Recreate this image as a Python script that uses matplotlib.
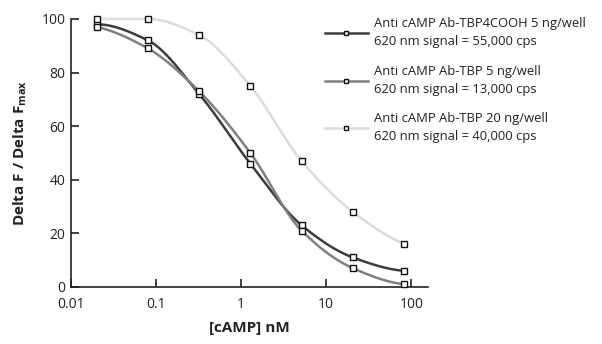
import numpy as np
import matplotlib
matplotlib.use("Agg")
import matplotlib.pyplot as plt

plt.rcParams['font.family'] = ['Open Sans', 'DejaVu Sans']
plt.rcParams['mathtext.default'] = 'regular'

conc = [0.02, 0.08, 0.32, 1.28, 5.12, 20.48, 81.92]
s_cooh5 = [98, 92, 72, 46, 23, 11, 6]
s_tbp5 = [97, 89, 73, 50, 21, 7, 1]
s_tbp20 = [100, 100, 94, 75, 47, 28, 16]
labels = ["Anti cAMP Ab-TBP4COOH 5 ng/well\n620 nm signal = 55,000 cps",
          "Anti cAMP Ab-TBP 5 ng/well\n620 nm signal = 13,000 cps",
          "Anti cAMP Ab-TBP 20 ng/well\n620 nm signal = 40,000 cps"]
colors = ['#3c3c3c', '#808080', '#dcdcdc']
xticks = [0.01, 0.1, 1, 10, 100]
xticklabels = ['0.01', '0.1', '1', '10', '100']
yticks = [0, 20, 40, 60, 80, 100]


def pchip(x, y, xn):
    x = np.asarray(x, float); y = np.asarray(y, float)
    h = np.diff(x); d = np.diff(y) / h
    n = len(x); m = np.zeros(n)
    for k in range(1, n - 1):
        if d[k - 1] * d[k] > 0:
            w1 = 2 * h[k] + h[k - 1]; w2 = h[k] + 2 * h[k - 1]
            m[k] = (w1 + w2) / (w1 / d[k - 1] + w2 / d[k])
    m[0] = ((2 * h[0] + h[1]) * d[0] - h[0] * d[1]) / (h[0] + h[1])
    if np.sign(m[0]) != np.sign(d[0]):
        m[0] = 0
    m[-1] = ((2 * h[-1] + h[-2]) * d[-1] - h[-1] * d[-2]) / (h[-1] + h[-2])
    if np.sign(m[-1]) != np.sign(d[-1]):
        m[-1] = 0
    idx = np.clip(np.searchsorted(x, xn) - 1, 0, n - 2)
    t = (xn - x[idx]) / h[idx]
    h00 = 2 * t**3 - 3 * t**2 + 1; h10 = t**3 - 2 * t**2 + t
    h01 = -2 * t**3 + 3 * t**2; h11 = t**3 - t**2
    return h00 * y[idx] + h10 * h[idx] * m[idx] + h01 * y[idx + 1] + h11 * h[idx] * m[idx + 1]


fig = plt.figure(figsize=(6.02, 3.44), dpi=100)
ax = fig.add_axes([0.118, 0.166, 0.593, 0.779])

lx = np.log10(conc)
xs = np.linspace(lx[0], lx[-1], 300)
handles = []
for ser, c, lab in zip([s_cooh5, s_tbp5, s_tbp20], colors, labels):
    ys = pchip(lx, ser, xs)
    ax.plot(10**xs, ys, color=c, lw=1.8, solid_capstyle='round', clip_on=False)
    ax.plot(conc, ser, ls='none', marker='s', ms=3.8, mfc='white', mec='#111111', mew=1.0, clip_on=False, zorder=5)
    h, = ax.plot([], [], color=c, lw=1.8, marker='s', ms=3.4, mfc='white', mec='#111111', mew=1.0)
    handles.append(h)

ax.set_xscale('log')
ax.set_xlim(0.01, 157)
ax.set_ylim(0, 100)
ax.set_xticks(xticks)
ax.set_xticklabels(xticklabels)
ax.xaxis.set_minor_locator(matplotlib.ticker.NullLocator())
ax.set_yticks(yticks)
for s in ['top', 'right']:
    ax.spines[s].set_visible(False)
for s in ['left', 'bottom']:
    ax.spines[s].set_linewidth(1.2)
    ax.spines[s].set_color('#222222')
ax.tick_params(direction='in', length=6, width=1.2, color='#222222', labelsize=10, labelcolor='#222222', pad=4)
ax.tick_params(axis='x', pad=7)
ax.set_xlabel('[cAMP] nM', fontsize=11, fontweight='bold', labelpad=7, color='#222222')
ax.set_ylabel('Delta F / Delta F$_{max}$', fontsize=11, fontweight='bold', labelpad=9, color='#222222')

leg = fig.legend(handles, labels, loc='upper left', bbox_to_anchor=(0.52, 0.984),
                 frameon=False, fontsize=9.4, handlelength=3.3, handletextpad=0.5,
                 labelspacing=1.25, labelcolor='#222222')
for t in leg.get_texts():
    t.set_linespacing(1.5)

fig.savefig('out.png', dpi=100)
